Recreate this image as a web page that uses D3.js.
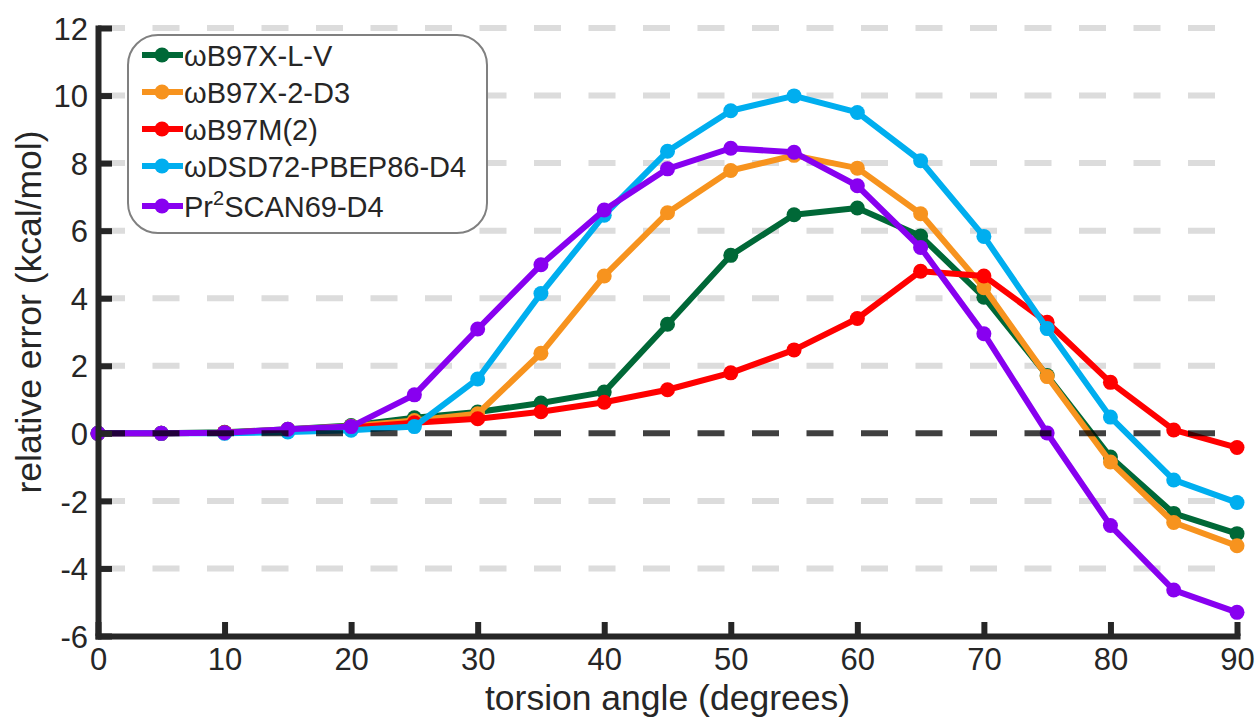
<!DOCTYPE html>
<html>
<head>
<meta charset="utf-8">
<script src="https://cdn.jsdelivr.net/npm/d3@7"></script>
<style>
  html, body { margin: 0; padding: 0; background: #fff; }
  svg { display: block; }
  text { font-family: "Liberation Sans", Arial, Helvetica, sans-serif; fill: #262626; }
</style>
</head>
<body>
<svg id="chart" width="1260" height="719"></svg>
<script>
// ---------- data ----------
const angles = [0, 5, 10, 15, 20, 25, 30, 35, 40, 45, 50, 55, 60, 65, 70, 75, 80, 85, 90];
const seriesNames = ["ωB97X-L-V", "ωB97X-2-D3", "ωB97M(2)", "ωDSD72-PBEP86-D4", "Pr2SCAN69-D4"];
const seriesColors = ["#006837", "#f7931e", "#ff0000", "#00aeef", "#8800f0"];
const wB97XLV   = [0, 0, 0.03, 0.12, 0.23, 0.46, 0.63, 0.90, 1.22, 3.23, 5.27, 6.47, 6.67, 5.84, 4.03, 1.71, -0.70, -2.37, -2.97];
const wB97X2D3  = [0, 0, 0.02, 0.11, 0.21, 0.38, 0.58, 2.37, 4.66, 6.53, 7.78, 8.23, 7.85, 6.50, 4.31, 1.68, -0.85, -2.64, -3.33];
const wB97M2    = [0, 0, 0.02, 0.09, 0.17, 0.31, 0.43, 0.64, 0.92, 1.29, 1.79, 2.47, 3.40, 4.80, 4.66, 3.29, 1.51, 0.10, -0.42];
const wDSD72    = [0, 0, 0.00, 0.04, 0.09, 0.20, 1.61, 4.14, 6.46, 8.35, 9.55, 9.99, 9.50, 8.07, 5.83, 3.10, 0.48, -1.38, -2.05];
const Pr2SCAN69 = [0, 0, 0.02, 0.12, 0.20, 1.14, 3.09, 4.99, 6.61, 7.83, 8.44, 8.32, 7.33, 5.50, 2.95, 0.01, -2.73, -4.64, -5.30];
const seriesValues = [wB97XLV, wB97X2D3, wB97M2, wDSD72, Pr2SCAN69];
const xTicks = [0, 10, 20, 30, 40, 50, 60, 70, 80, 90];
const yTicks = [-6, -4, -2, 0, 2, 4, 6, 8, 10, 12];
const gridValues = [-4, -2, 2, 4, 6, 8, 10, 12];

// ---------- layout ----------
const svg = d3.select("#chart");
const x = d3.scaleLinear().domain([0, 90]).range([98, 1237]);
const y = d3.scaleLinear().domain([-6, 12]).range([636, 28]);
const axisColor = "#262626";

// gridlines
svg.append("g").selectAll("line").data(gridValues).join("line")
  .attr("x1", x(0)).attr("x2", x(90))
  .attr("y1", d => y(d)).attr("y2", d => y(d))
  .attr("stroke", "#dcdcdc").attr("stroke-width", 6)
  .attr("stroke-dasharray", "27,27.5");

// series
const line = d3.line().x((d, i) => x(angles[i])).y(d => y(d));
seriesValues.forEach((vals, k) => {
  const g = svg.append("g");
  g.append("path").datum(vals).attr("d", line)
    .attr("fill", "none").attr("stroke", seriesColors[k])
    .attr("stroke-width", 6).attr("stroke-linejoin", "round");
  g.selectAll("circle").data(vals).join("circle")
    .attr("cx", (d, i) => x(angles[i])).attr("cy", d => y(d))
    .attr("r", 7.5).attr("fill", seriesColors[k]);
});

// zero reference line (on top, translucent)
svg.append("line")
  .attr("x1", x(0)).attr("x2", x(90))
  .attr("y1", y(0)).attr("y2", y(0))
  .attr("stroke", "#000").attr("stroke-opacity", 0.75).attr("stroke-width", 6)
  .attr("stroke-dasharray", "27,27.5");

// axes
const fmt = d => String(d);
const xAxis = svg.append("g").attr("transform", `translate(0,${y(-6)})`)
  .call(d3.axisBottom(x).tickValues(xTicks).tickFormat(fmt).tickSizeInner(-14).tickSizeOuter(0).tickPadding(12));
const yAxis = svg.append("g").attr("transform", `translate(${x(0)},0)`)
  .call(d3.axisLeft(y).tickValues(yTicks).tickFormat(fmt).tickSizeInner(-14).tickSizeOuter(0).tickPadding(10));
[xAxis, yAxis].forEach(a => {
  a.select(".domain").attr("stroke", axisColor).attr("stroke-width", 6).attr("stroke-linecap", "square");
  a.selectAll(".tick line").attr("stroke", axisColor).attr("stroke-width", 6);
  a.selectAll(".tick text").attr("fill", axisColor).style("font-size", "31px")
    .style("font-family", '"Liberation Sans", Arial, sans-serif');
});
yAxis.selectAll(".tick text").attr("dy", "0.36em");
xAxis.selectAll(".tick text").attr("dy", "0.72em");

// axis labels
svg.append("text").attr("x", (x(0) + x(90)) / 2).attr("y", 710)
  .attr("text-anchor", "middle").style("font-size", "35.5px")
  .text("torsion angle (degrees)");
svg.append("text")
  .attr("transform", `translate(41,312) rotate(-90)`)
  .attr("text-anchor", "middle").style("font-size", "35.5px")
  .text("relative error (kcal/mol)");

// legend
const legend = svg.append("g");
legend.append("rect").attr("x", 128).attr("y", 35).attr("width", 359).attr("height", 198)
  .attr("rx", 30).attr("ry", 30)
  .attr("fill", "#fff").attr("stroke", "#808080").attr("stroke-width", 2);
const rowY = [55, 92, 129, 166, 206];
seriesNames.forEach((name, k) => {
  const ry = rowY[k];
  legend.append("line").attr("x1", 142).attr("x2", 183).attr("y1", ry).attr("y2", ry)
    .attr("stroke", seriesColors[k]).attr("stroke-width", 6);
  legend.append("circle").attr("cx", 162).attr("cy", ry).attr("r", 7.5).attr("fill", seriesColors[k]);
  const t = legend.append("text").attr("x", 184).attr("y", ry + 10.5).style("font-size", "29px");
  if (name.startsWith("Pr2")) {
    t.append("tspan").text("Pr");
    t.append("tspan").attr("dy", -12).style("font-size", "20px").text("2");
    t.append("tspan").attr("dy", 12).text(name.slice(3));
  } else {
    t.text(name);
  }
});
</script>
</body>
</html>
